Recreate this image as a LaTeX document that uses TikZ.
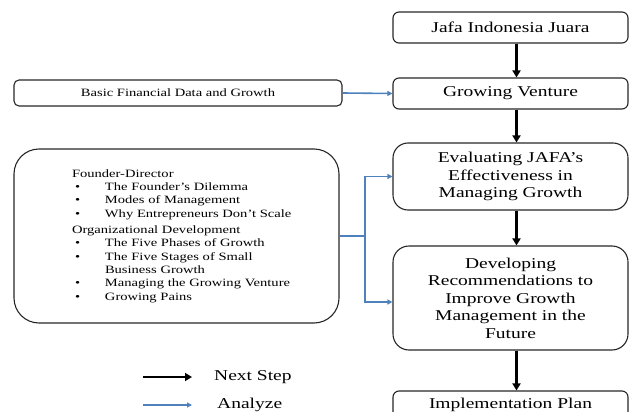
\documentclass[tikz,border=0pt]{standalone}
\usepackage{fontspec}
\setmainfont{Liberation Serif}[FakeStretch=1.3]
\usetikzlibrary{arrows.meta}
\definecolor{ablue}{HTML}{4F81BD}
\newcommand\bul{\makebox[33pt][l]{\hspace{3pt}\textbullet}}
\begin{document}
\begin{tikzpicture}[x=1pt,y=-1pt,
  boxline/.style={draw=black!85, line width=1.1pt},
  rbox/.style={boxline, minimum width=235pt, align=center, inner sep=0pt,
    font=\fontsize{15}{17.5}\selectfont},
  lbox/.style={boxline, minimum width=328pt, inner sep=0pt,
    font=\fontsize{11.2}{13.3}\selectfont},
  nextstep/.style={black, line width=2.6pt, -{Triangle[length=7pt,width=8pt]}},
  analyze/.style={ablue, line width=1.6pt, -{Triangle[length=5pt,width=5pt]}},
  legtext/.style={anchor=west, inner sep=0pt, font=\fontsize{15}{17}\selectfont}]
\useasboundingbox (0,0) rectangle (629,412);

% right column
\node[rbox, rounded corners=6pt, minimum height=31pt] (jafa) at (510.5,27.5) {Jafa Indonesia Juara};
\node[rbox, rounded corners=6pt, minimum height=31pt] (gv) at (510.5,93.5) {Growing Venture};
\node[rbox, rounded corners=15pt, minimum height=67pt] (eval) at (510.5,176.5)
  {Evaluating JAFA’s\\Effectiveness in\\Managing Growth};
\node[rbox, rounded corners=16pt, minimum height=104pt] (dev) at (510.5,298)
  {Developing\\Recommendations to\\Improve Growth\\Management in the\\Future};
\node[rbox, rounded corners=6pt, minimum height=28pt] (impl) at (510.5,405) {Implementation Plan};

% left column
\node[lbox, rounded corners=5pt, minimum height=26pt, align=center] (basic) at (178,93)
  {Basic Financial Data and Growth};
\node[lbox, rounded corners=25pt, minimum width=325pt, minimum height=174pt, text width=267pt, align=left] (big) at (176.5,236)
  {\leftskip=29pt
   Founder-Director\\
   \bul The Founder’s Dilemma\\
   \bul Modes of Management\\
   \bul Why Entrepreneurs Don’t Scale\\[3pt]
   Organizational Development\\
   \bul The Five Phases of Growth\\
   \bul The Five Stages of Small\\
   \hspace*{33pt}Business Growth\\
   \bul Managing the Growing Venture\\
   \bul Growing Pains\par};

% next-step arrows
\draw[nextstep] ([xshift=6pt]jafa.south) -- ([xshift=6pt]gv.north);
\draw[nextstep] ([xshift=6pt]gv.south) -- ([xshift=6pt]eval.north);
\draw[nextstep] ([xshift=6pt]eval.south) -- ([xshift=6pt]dev.north);
\draw[nextstep] ([xshift=6pt]dev.south) -- ([xshift=6pt]impl.north);

% analyze arrows
\draw[analyze] (basic.east) -- (gv.west);
\coordinate (split) at (365,236);
\draw[ablue, line width=1.6pt] (big.east) -- (split);
\draw[analyze] (split) |- (eval.west);
\draw[analyze] (split) |- ([yshift=-4pt]dev.west);

% legend
\coordinate (ns0) at (143,377);
\coordinate (ns1) at (192,377);
\coordinate (an0) at (143,405);
\coordinate (an1) at (192,405);
\draw[nextstep] (ns0) -- (ns1);
\draw[analyze] (an0) -- (an1);
\node[legtext] (nstext) at (214,377) {Next Step};
\node[legtext] (antext) at (217,405) {Analyze};
\end{tikzpicture}
\end{document}
